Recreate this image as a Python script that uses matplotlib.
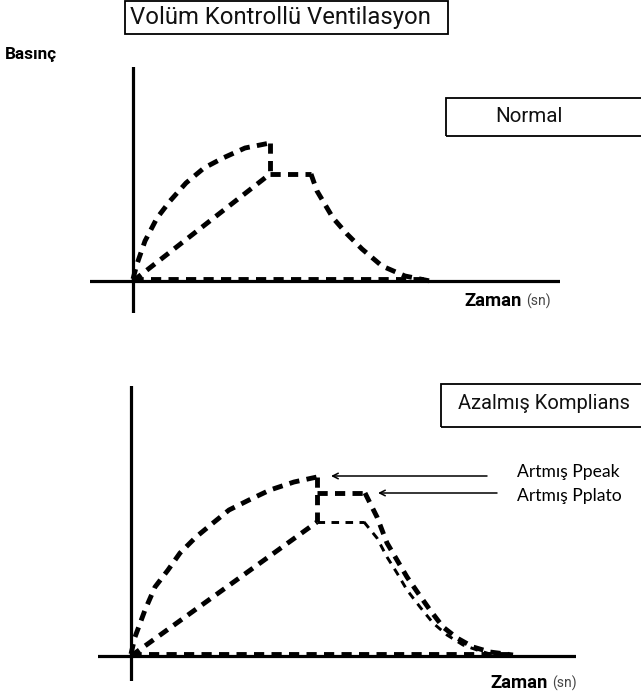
import matplotlib
matplotlib.use("Agg")
import matplotlib.pyplot as plt
from matplotlib.patches import Rectangle

# ---------------- data (time in s, pressure in arbitrary units) ----------------
# Normal compliance panel
n_peak_t = [0.0, 0.04, 0.12, 0.24, 0.37, 0.53, 0.71, 0.90, 1.12, 1.37]
n_peak_p = [0.4, 3.4, 8.0, 12.6, 16.0, 19.6, 22.6, 24.6, 26.6, 27.6]
n_drop_t = [1.37, 1.37]
n_drop_p = [27.6, 21.4]
n_ramp_t = [0.0, 1.37]
n_ramp_p = [0.0, 21.4]
n_plat_t = [1.37, 1.78]
n_plat_p = [21.4, 21.4]
n_decay_t = [1.78, 1.84, 2.00, 2.14, 2.29, 2.49, 2.72, 2.97]
n_decay_p = [21.4, 18.0, 12.6, 9.4, 6.4, 3.0, 1.0, 0.0]
n_base_t = [0.0, 2.97]
n_base_p = [0.5, 0.5]

# Decreased compliance panel
d_peak_t = [0.0, 0.04, 0.14, 0.24, 0.37, 0.49, 0.65, 0.82, 0.98, 1.18, 1.39, 1.63, 1.86]
d_peak_p = [0.4, 3.8, 9.2, 13.8, 17.2, 20.6, 23.8, 26.6, 29.2, 31.2, 33.2, 34.8, 35.8]
d_drop_t = [1.86, 1.86]
d_drop_p = [35.8, 26.8]
d_ramp_t = [0.0, 1.86]
d_ramp_p = [0.0, 26.8]
d_hiplat_t = [1.86, 2.34]
d_hiplat_p = [32.6, 32.6]
d_hidecay_t = [2.34, 2.46, 2.56, 2.66, 2.76, 2.87, 2.99, 3.12, 3.26, 3.42, 3.59, 3.82]
d_hidecay_p = [32.6, 27.8, 22.6, 19.2, 15.8, 12.6, 9.2, 5.8, 3.6, 1.8, 0.8, 0.2]
d_loplat_t = [1.86, 2.33]
d_loplat_p = [26.8, 26.8]
d_lodecay_t = [2.33, 2.46, 2.56, 2.66, 2.76, 2.89, 3.02, 3.16, 3.32, 3.46, 3.59]
d_lodecay_p = [26.8, 23.6, 19.8, 16.6, 13.2, 9.8, 6.6, 4.2, 2.2, 1.2, 0.4]
d_base_t = [0.0, 3.84]
d_base_p = [0.5, 0.5]

peak_level = 36.0
plateau_level = 32.6
label_levels = [36.9, 32.0]

title = "Volüm Kontrollü Ventilasyon"
ylabel = "Basınç"
xlabel = "Zaman"
xunit = "(sn)"
panel_labels = ["Normal", "Azalmış Komplians"]
arrow_labels = ["Artmış Ppeak", "Artmış Pplato"]

# ---------------- figure ----------------
W, H = 641, 698
fig = plt.figure(figsize=(W / 100, H / 100), dpi=100)


def fx(x):
    return x / W


def fy(y):
    return 1 - y / H


def add_panel(x0, x1, y0, y1, ox, oy):
    ax = fig.add_axes([fx(x0), fy(y1), (x1 - x0) / W, (y1 - y0) / H])
    ax.set_xlim((x0 - ox) / 100, (x1 - ox) / 100)
    ax.set_ylim((oy - y1) / 5, (oy - y0) / 5)
    ax.axis("off")
    ax.axhline(0, color="black", lw=2.3, zorder=1)
    ax.axvline(0, color="black", lw=2.3, zorder=1)
    return ax


THICK = dict(color="black", lw=3.5, dashes=(2.1, 1.5), solid_capstyle="butt",
             dash_capstyle="butt", clip_on=False, zorder=3)
THIN = dict(color="black", lw=2.1, dashes=(2.6, 2.2), dash_capstyle="butt",
            clip_on=False, zorder=3)

# top panel
ax1 = add_panel(90, 560, 67, 313, 133, 281)
for t, p in [(n_peak_t, n_peak_p), (n_drop_t, n_drop_p), (n_ramp_t, n_ramp_p),
             (n_plat_t, n_plat_p), (n_decay_t, n_decay_p), (n_base_t, n_base_p)]:
    ax1.plot(t, p, **THICK)

# bottom panel
ax2 = add_panel(98, 576, 386, 681, 131, 656)
for t, p in [(d_peak_t, d_peak_p), (d_drop_t, d_drop_p), (d_ramp_t, d_ramp_p),
             (d_hiplat_t, d_hiplat_p), (d_hidecay_t, d_hidecay_p), (d_base_t, d_base_p)]:
    ax2.plot(t, p, **THICK)
for t, p in [(d_loplat_t, d_loplat_p), (d_lodecay_t, d_lodecay_p)]:
    ax2.plot(t, p, **THIN)

# arrows
for (x_from, x_to, lvl, tl, lab) in [(3.56, 2.00, peak_level, label_levels[0], arrow_labels[0]),
                                     (3.66, 2.47, plateau_level, label_levels[1], arrow_labels[1])]:
    ax2.annotate("", xy=(x_to, lvl), xytext=(x_from, lvl),
                 arrowprops=dict(arrowstyle="->", lw=1.1, color="black",
                                 shrinkA=0, shrinkB=0, mutation_scale=10),
                 annotation_clip=False)
    ax2.text(3.86, tl, lab, fontsize=12.6, family="Lato", va="center",
             ha="left", clip_on=False)

# title box
fig.patches.append(Rectangle((fx(125), fy(34)), (448 - 125) / W, 33 / H,
                             transform=fig.transFigure, fill=False, lw=1.3,
                             ec="black"))
fig.text(fx(130), fy(17.5), title, fontsize=17.2, family="Roboto", ha="left",
         va="center", color="#111111")

# panel label boxes (run off right edge)
fig.patches.append(Rectangle((fx(446), fy(136)), (700 - 446) / W, 38 / H,
                             transform=fig.transFigure, fill=False, lw=1.3,
                             ec="black"))
fig.text(fx(495), fy(117), panel_labels[0], fontsize=14.8, family="Roboto",
         ha="left", va="center", color="#111111")
fig.patches.append(Rectangle((fx(441), fy(427)), (700 - 441) / W, 43 / H,
                             transform=fig.transFigure, fill=False, lw=1.3,
                             ec="black"))
fig.text(fx(458), fy(404), panel_labels[1], fontsize=14.5, family="Roboto",
         ha="left", va="center", color="#111111")

# axis labels
fig.text(fx(5), fy(55), ylabel, fontsize=12.3, family="Roboto",
         fontweight="bold", ha="left", va="center")
fig.canvas.draw()
r = fig.canvas.get_renderer()
for (zx, zy) in [(464, 300), (490, 682)]:
    t = fig.text(fx(zx), fy(zy + 6), xlabel, fontsize=13.3, family="Roboto",
                 fontweight="bold", ha="left", va="baseline")
    bb = t.get_window_extent(renderer=r)
    fig.text(bb.x1 / W + 5 / W, fy(zy + 6), xunit, fontsize=10, family="Roboto",
             ha="left", va="baseline", color="#444444")

fig.savefig("out.png", dpi=100)
